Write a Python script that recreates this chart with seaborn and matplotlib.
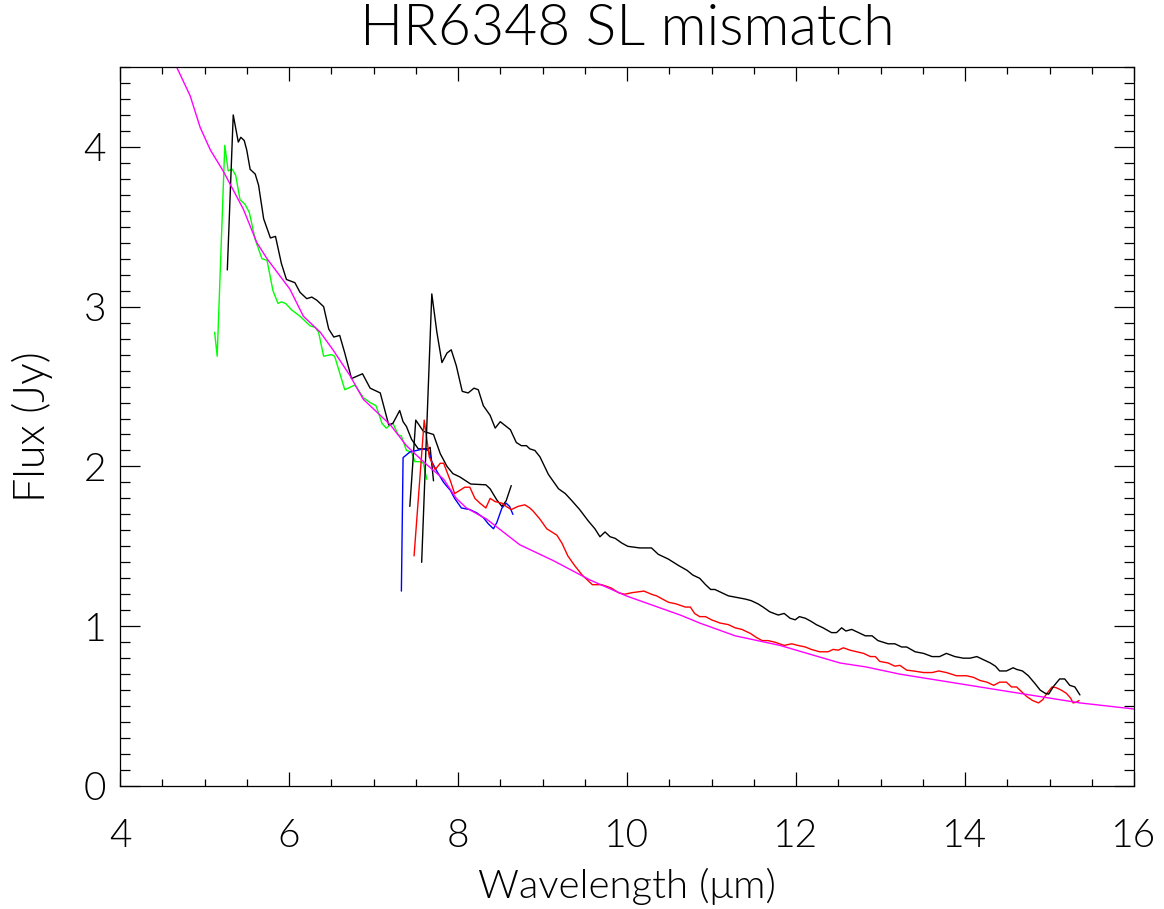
import matplotlib
matplotlib.use('Agg')
import matplotlib.pyplot as plt
import seaborn as sns
import numpy as np
from matplotlib.ticker import MultipleLocator

# Estilo
sns.set_style('ticks')
plt.rcParams['font.family'] = ['Lato', 'DejaVu Sans']
plt.rcParams['text.color'] = 'black'
plt.rcParams['axes.labelcolor'] = 'black'
plt.rcParams['xtick.color'] = 'black'
plt.rcParams['ytick.color'] = 'black'

# ---------------- dados ----------------
# SL2 verde
green_x = [5.12, 5.15, 5.24, 5.28, 5.33, 5.37, 5.42, 5.48, 5.53, 5.60, 5.68, 5.74, 5.81, 5.87,
           5.91, 5.96, 6.03, 6.13, 6.25, 6.31, 6.35, 6.41, 6.50, 6.54, 6.66, 6.78, 6.88, 6.96,
           7.03, 7.10, 7.15, 7.20, 7.23, 7.29, 7.33, 7.39, 7.45, 7.49, 7.55, 7.59, 7.63]
green_y = [2.84, 2.69, 4.01, 3.85, 3.86, 3.82, 3.67, 3.64, 3.59, 3.42, 3.30, 3.29, 3.10, 3.02,
           3.03, 3.02, 2.98, 2.94, 2.88, 2.87, 2.84, 2.69, 2.70, 2.69, 2.48, 2.51, 2.43, 2.40,
           2.38, 2.27, 2.24, 2.26, 2.27, 2.20, 2.19, 2.10, 2.09, 2.03, 2.03, 2.02, 1.92]

# SL2 preto
black_a_x = [5.27, 5.34, 5.40, 5.43, 5.47, 5.50, 5.54, 5.60, 5.64, 5.70, 5.78, 5.84, 5.91, 5.97,
             6.07, 6.13, 6.21, 6.27, 6.33, 6.41, 6.47, 6.53, 6.60, 6.66, 6.74, 6.87, 6.96, 7.08,
             7.12, 7.18, 7.23, 7.31, 7.35, 7.39, 7.45, 7.49, 7.53, 7.59, 7.65, 7.67, 7.71]
black_a_y = [3.23, 4.20, 4.03, 4.06, 4.04, 3.98, 3.86, 3.83, 3.76, 3.55, 3.43, 3.44, 3.27, 3.17,
             3.15, 3.09, 3.05, 3.06, 3.04, 3.00, 2.86, 2.81, 2.82, 2.71, 2.55, 2.58, 2.49, 2.46,
             2.38, 2.26, 2.27, 2.35, 2.28, 2.25, 2.17, 2.14, 2.11, 2.11, 2.11, 2.12, 1.91]

# bonus preto
black_b_x = [7.43, 7.50, 7.59, 7.71, 7.79, 7.87, 7.94, 8.02, 8.15, 8.33, 8.38, 8.46, 8.52, 8.57, 8.63]
black_b_y = [1.75, 2.29, 2.22, 2.20, 2.08, 2.00, 1.955, 1.935, 1.89, 1.885, 1.86, 1.79, 1.75, 1.785, 1.88]

# SL1 preto
black_c_x = [7.57, 7.69, 7.75, 7.81, 7.87, 7.92, 7.98, 8.05, 8.12, 8.19, 8.24, 8.30, 8.38, 8.44,
             8.50, 8.62, 8.69, 8.75, 8.81, 8.85, 8.91, 8.97, 9.07, 9.19, 9.27, 9.34, 9.44, 9.54,
             9.62, 9.68, 9.74, 9.80, 9.86, 9.94, 10.01, 10.15, 10.29, 10.37, 10.49, 10.61, 10.71,
             10.78, 10.86, 10.93, 10.99, 11.04, 11.12, 11.20, 11.30, 11.40, 11.47, 11.55, 11.61,
             11.69, 11.79, 11.86, 11.93, 11.99, 12.04, 12.11, 12.18, 12.24, 12.32, 12.42, 12.48,
             12.54, 12.59, 12.66, 12.74, 12.82, 12.90, 12.97, 13.09, 13.17, 13.25, 13.31, 13.41,
             13.51, 13.61, 13.70, 13.78, 13.88, 13.98, 14.06, 14.14, 14.22, 14.30, 14.36, 14.41,
             14.49, 14.57, 14.61, 14.68, 14.75, 14.83, 14.89, 14.95, 14.99, 15.05, 15.12, 15.18,
             15.24, 15.30, 15.36]
black_c_y = [1.40, 3.08, 2.84, 2.65, 2.71, 2.73, 2.63, 2.47, 2.46, 2.49, 2.48, 2.38, 2.32, 2.24,
             2.28, 2.23, 2.15, 2.13, 2.13, 2.11, 2.10, 2.06, 1.95, 1.86, 1.83, 1.79, 1.73, 1.66,
             1.61, 1.56, 1.59, 1.56, 1.55, 1.52, 1.50, 1.49, 1.49, 1.45, 1.42, 1.38, 1.35,
             1.32, 1.30, 1.26, 1.23, 1.23, 1.21, 1.19, 1.18, 1.17, 1.16, 1.14, 1.12,
             1.09, 1.07, 1.08, 1.05, 1.04, 1.06, 1.05, 1.03, 1.01, 0.99, 0.96, 0.96,
             0.99, 0.97, 0.98, 0.96, 0.94, 0.94, 0.91, 0.89, 0.89, 0.87, 0.87, 0.84,
             0.83, 0.81, 0.81, 0.83, 0.81, 0.80, 0.80, 0.81, 0.79, 0.77, 0.75, 0.72,
             0.72, 0.74, 0.73, 0.72, 0.69, 0.64, 0.60, 0.58, 0.575, 0.625, 0.67, 0.67,
             0.63, 0.62, 0.57]

# SL1 vermelho
red_x = [7.48, 7.60, 7.66, 7.73, 7.79, 7.83, 7.91, 7.96, 8.02, 8.08, 8.14, 8.20, 8.26, 8.33,
         8.38, 8.44, 8.52, 8.57, 8.63, 8.71, 8.79, 8.85, 8.89, 8.97, 9.05, 9.17, 9.23, 9.30,
         9.38, 9.47, 9.59, 9.70, 9.81, 9.90, 9.97, 10.06, 10.20, 10.29, 10.35, 10.49, 10.58,
         10.69, 10.75, 10.80, 10.86, 10.93, 11.00, 11.10, 11.20, 11.28, 11.36, 11.46, 11.53,
         11.60, 11.67, 11.75, 11.86, 11.95, 12.02, 12.11, 12.18, 12.28, 12.38, 12.44, 12.50,
         12.56, 12.64, 12.72, 12.80, 12.88, 12.94, 12.99, 13.09, 13.17, 13.23, 13.31, 13.39,
         13.51, 13.61, 13.69, 13.78, 13.90, 14.02, 14.10, 14.18, 14.26, 14.34, 14.41, 14.49,
         14.55, 14.61, 14.67, 14.73, 14.80, 14.87, 14.92, 14.97, 15.03, 15.08, 15.14, 15.20,
         15.25, 15.28, 15.32, 15.35]
red_y = [1.44, 2.29, 2.06, 1.98, 2.02, 2.02, 1.91, 1.83, 1.85, 1.87, 1.87, 1.80, 1.77, 1.74,
         1.80, 1.78, 1.77, 1.75, 1.73, 1.75, 1.76, 1.74, 1.72, 1.67, 1.61, 1.57, 1.52, 1.44,
         1.38, 1.32, 1.26, 1.26, 1.24, 1.21, 1.20, 1.21, 1.22, 1.20, 1.19, 1.15, 1.14,
         1.12, 1.12, 1.08, 1.06, 1.06, 1.04, 1.02, 1.01, 0.99, 0.98, 0.955, 0.93,
         0.91, 0.91, 0.90, 0.88, 0.89, 0.88, 0.87, 0.855, 0.84, 0.84, 0.855, 0.85,
         0.865, 0.85, 0.84, 0.83, 0.81, 0.81, 0.78, 0.77, 0.75, 0.755, 0.725, 0.72,
         0.71, 0.71, 0.72, 0.71, 0.69, 0.69, 0.68, 0.66, 0.65, 0.63, 0.65, 0.65,
         0.62, 0.62, 0.59, 0.56, 0.535, 0.52, 0.54, 0.58, 0.62, 0.615, 0.60, 0.58,
         0.55, 0.52, 0.525, 0.535]

# bonus azul
blue_x = [7.33, 7.35, 7.43, 7.51, 7.59, 7.65, 7.69, 7.75, 7.83, 7.91, 7.96, 8.04, 8.14, 8.22,
          8.30, 8.36, 8.42, 8.46, 8.52, 8.57, 8.61, 8.65]
blue_y = [1.22, 2.055, 2.09, 2.10, 2.11, 2.10, 2.03, 1.97, 1.90, 1.85, 1.80, 1.74, 1.73, 1.71,
          1.68, 1.64, 1.61, 1.65, 1.74, 1.77, 1.75, 1.70]

# modelo magenta
model_x = [4.55, 4.67, 4.83, 4.95, 5.07, 5.22, 5.46, 5.62, 5.74, 6.01, 6.17, 6.37, 6.52, 6.72,
           6.88, 7.20, 7.39, 7.59, 7.83, 7.98, 8.10, 8.34, 8.73, 9.13, 9.56, 9.99, 10.63, 10.86,
           11.28, 11.81, 12.52, 12.83, 13.23, 14.41, 15.36, 16.2]
model_y = [4.62, 4.50, 4.32, 4.12, 3.98, 3.85, 3.61, 3.40, 3.30, 3.11, 2.94, 2.84, 2.73, 2.57,
           2.42, 2.26, 2.13, 2.03, 1.92, 1.80, 1.74, 1.67, 1.51, 1.41, 1.29, 1.19, 1.07, 1.02,
           0.94, 0.88, 0.77, 0.745, 0.70, 0.60, 0.52, 0.47]

series = [
    (green_x, green_y, '#00ff00'),
    (black_a_x, black_a_y, 'black'),
    (black_b_x, black_b_y, 'black'),
    (blue_x, blue_y, '#0000ff'),
    (red_x, red_y, '#ff0000'),
    (black_c_x, black_c_y, 'black'),
    (model_x, model_y, '#ff00ff'),
]

# ---------------- figura ----------------
fig = plt.figure(figsize=(11.64, 9.09), dpi=100)
ax = fig.add_axes([120/1164, 1 - 786/909, 1014/1164, 719/909])

for xs, ys, cor in series:
    sns.lineplot(x=xs, y=ys, color=cor, lw=1.0, sort=False, estimator=None, ax=ax)

ax.set_xlim(4, 16)
ax.set_ylim(0, 4.5)

ax.xaxis.set_major_locator(MultipleLocator(2))
ax.xaxis.set_minor_locator(MultipleLocator(0.5))
ax.yaxis.set_major_locator(MultipleLocator(1))
ax.yaxis.set_minor_locator(MultipleLocator(0.1))

for s in ax.spines.values():
    s.set_visible(True)
    s.set_linewidth(0.9)
    s.set_color('black')

peso = 300
ax.tick_params(axis='x', which='major', direction='in', top=True, length=10, width=0.9,
               labelsize=28, pad=23)
ax.tick_params(axis='x', which='minor', direction='in', top=True, length=5, width=0.9)
ax.tick_params(axis='y', which='major', direction='in', right=True, length=14.4, width=0.9,
               labelsize=28, pad=10)
ax.tick_params(axis='y', which='minor', direction='in', right=True, length=7.2, width=0.9)
for lab in ax.get_xticklabels() + ax.get_yticklabels():
    lab.set_fontweight(peso)

ax.set_title('HR6348 SL mismatch', fontsize=41, fontweight=peso, pad=16)
ax.set_xlabel('Wavelength (μm)', fontsize=29, fontweight=peso)
ax.set_ylabel('Flux (Jy)', fontsize=31, fontweight=peso)
ax.xaxis.label.set_va('baseline')
ax.xaxis.set_label_coords(0.5, -0.156)
ax.yaxis.set_label_coords(-0.066, 0.5)

fig.savefig('out.png', dpi=100)
